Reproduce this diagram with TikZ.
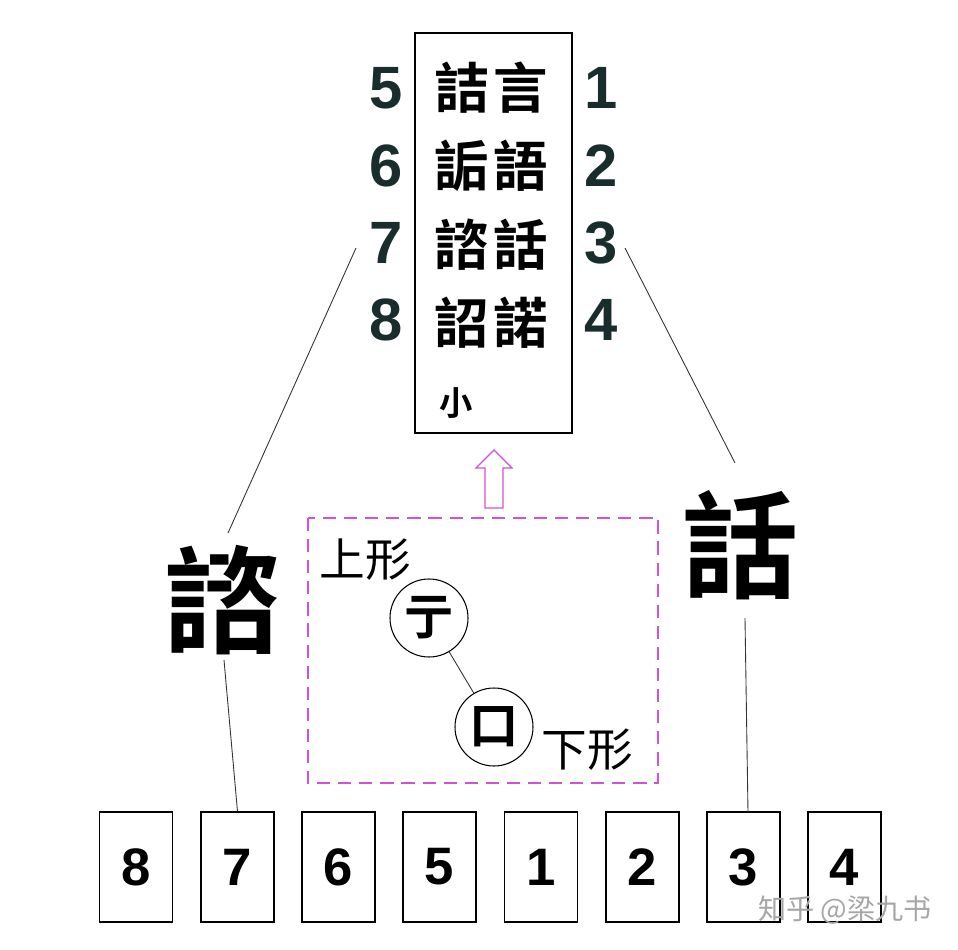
\documentclass[tikz,border=0pt]{standalone}
\usepackage{fontspec}
\setmainfont{Liberation Sans}
\newfontfamily\cjk{Noto Sans CJK TC}[BoldFont={* Bold}]
\definecolor{pinkline}{RGB}{212,80,212}
\definecolor{numcol}{RGB}{25,45,45}
\begin{document}
\begin{tikzpicture}[x=0.02cm,y=-0.02cm,
  thinline/.style={draw=black!80,line width=0.5pt},
  topnum/.style={font=\bfseries\fontsize{34}{34}\selectfont, text=numcol},
  boxchar/.style={font=\cjk\bfseries\fontsize{31}{31}\selectfont, inner sep=0pt},
  bignum/.style={font=\bfseries\fontsize{30}{30}\selectfont, inner sep=0pt},
  card/.style={draw, line width=0.6pt, minimum width=73*0.02cm, minimum height=110*0.02cm, inner sep=0pt},
  bigchar/.style={font=\cjk\bfseries\fontsize{66}{66}\selectfont, inner sep=0pt},
  circ/.style={draw, circle, line width=0.6pt, minimum size=78*0.02cm, inner sep=0pt, font=\cjk\bfseries\fontsize{28}{28}\selectfont},
  lbl/.style={font=\cjk\fontsize{26}{26}\selectfont, inner sep=0pt},
  pinkd/.style={draw=pinkline, line width=0.7pt, dash pattern=on 7.5pt off 4.5pt}
]
\useasboundingbox (0,0) rectangle (958,950);
\fill[white] (0,0) rectangle (958,950);
% top box
\node[draw, line width=0.6pt, minimum width=157*0.02cm, minimum height=400*0.02cm, inner sep=0pt] (topbox) at (493.5,233) {};
\foreach \c/\y/\n in {詰/88/a,詬/166/b,諮/245/c,詔/323/d}
  \node[boxchar] (l\n) at (462,\y) {\c};
\foreach \c/\y/\n in {言/88/a,語/166/b,話/245/c,諾/323/d}
  \node[boxchar] (r\n) at (521,\y) {\c};
\node[font=\cjk\bfseries\fontsize{19}{19}\selectfont, inner sep=0pt] (small) at (456,403) {小};
% side numbers
\foreach \t/\y/\n in {5/88/a,6/166/b,7/243/c,8/320/d}
  \node[topnum, inner sep=0pt] (ln\n) at (386,\y) {\t};
\foreach \t/\y/\n in {1/88/a,2/166/b,3/243/c,4/320/d}
  \node[topnum, inner sep=0pt] (rn\n) at (601,\y) {\t};
% big characters
\node[bigchar] (big7) at (222,600) {諮};
\node[bigchar] (big3) at (740,545) {話};
% connectors
\coordinate (c7a) at (356,248);
\coordinate (c7b) at (228,533);
\coordinate (c3a) at (625,248);
\coordinate (c3b) at (735,463);
\draw[thinline] (c7a) -- (c7b);
\draw[thinline] (c3a) -- (c3b);
% cards
\foreach \t/\x in {8/136,7/237.5,6/338.5,5/439.5,1/541,2/642.5,3/743.5,4/844.5}
  \node[card] (card\t) at (\x,867) {};
\foreach \t/\x in {8/136,7/237.5,6/338.5,5/439.5,1/541,2/642.5,3/743.5,4/844.5}
  \node[bignum] at (card\t) {\t};
\coordinate (d7) at (224,660);
\coordinate (d3) at (745,618);
\draw[thinline] (d7) -- (card7.north);
\draw[thinline] (d3) -- (748,812);
% dashed box
\draw[pinkd] (308,518) rectangle (658,783);
% hollow arrow
\draw[draw=pinkline, line width=0.7pt] (485,508) -- (485,468) -- (476,468) -- (494,450) -- (512,468) -- (503,468) -- (503,508) -- cycle;
% circles
\node[circ] (up) at (429,618) {亍};
\node[circ] (down) at (494,727) {口};
\draw[thinline] (up) -- (down);
\node[lbl] (ul) at (365,560) {上形};
\node[lbl] (dl) at (587,750) {下形};
% watermark
\node[font=\cjk\fontsize{16}{16}\selectfont, text=black!35, inner sep=0pt] (wm) at (845,910) {知乎 @梁九书};
\end{tikzpicture}
\end{document}
